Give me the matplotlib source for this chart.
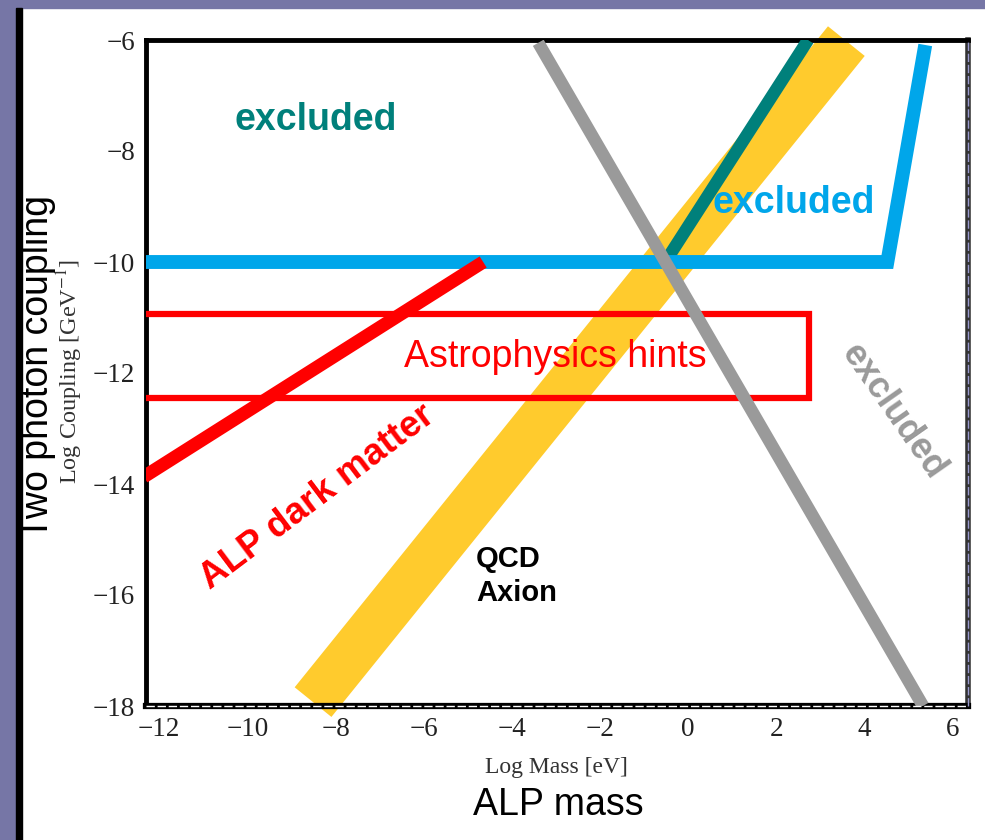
import matplotlib
matplotlib.use("Agg")
import matplotlib.pyplot as plt
from matplotlib.patches import Rectangle
from matplotlib.lines import Line2D

plt.rcParams['mathtext.fontset'] = 'stix'

# ---- data (log10 mass [eV], log10 coupling [GeV^-1]) ----
cyan_x = [-12.35, 4.52, 5.38]
cyan_y = [-10.0, -10.0, -6.09]
teal_x = [-0.52, 2.72]
teal_y = [-10.0, -6.0]
qcd_x = [-8.51, 3.59]
qcd_y = [-17.93, -6.02]
gray_x = [-3.40, 5.33]
gray_y = [-6.05, -18.0]
red_x = [-12.35, -4.65]
red_y = [-13.87, -10.0]
hint_x = [-12.35, 2.75]
hint_y = [-12.45, -10.94]

xticks = [-12, -10, -8, -6, -4, -2, 0, 2, 4, 6]
yticks = [-18, -16, -14, -12, -10, -8, -6]

W, H = 985, 840
fig = plt.figure(figsize=(W / 100, H / 100), dpi=100)
fig.patch.set_facecolor('white')

def fx(px):
    return px / W

def fy(py):
    return 1 - py / H

# slide decoration
fig.patches.append(Rectangle((0, fy(8)), 1, 8 / H, transform=fig.transFigure,
                             color='#7676A6', zorder=0))
fig.patches.append(Rectangle((0, 0), fx(15), 1, transform=fig.transFigure,
                             color='#7676A6', zorder=0))
fig.patches.append(Rectangle((fx(16), 0), fx(6), fy(8), transform=fig.transFigure,
                             color='black', zorder=0))

ax = fig.add_axes([fx(146), fy(706), fx(822), 666 / H])
ax.set_xlim(-12.3, 6.35)
ax.set_ylim(-18, -6)

sans = 'Liberation Sans'
serif = 'Liberation Serif'

# QCD axion band
ax.plot(qcd_x, qcd_y, color='#FFCB2D', lw=34, solid_capstyle='butt', zorder=2, clip_on=False)
# teal exclusion
ax.plot(teal_x, teal_y, color='#00807B', lw=9, solid_capstyle='butt', zorder=3)
# cyan exclusion
ax.plot(cyan_x, cyan_y, color='#00A6EA', lw=10, solid_capstyle='butt',
        solid_joinstyle='miter', zorder=3)
# astrophysics hints box
ax.plot([hint_x[0], hint_x[1], hint_x[1], hint_x[0]],
        [hint_y[1], hint_y[1], hint_y[0], hint_y[0]],
        color='#FF0000', lw=4.5, solid_joinstyle='miter', zorder=4)
# ALP dark matter line
ax.plot(red_x, red_y, color='#FF0000', lw=9.5, solid_capstyle='butt', zorder=5)
# gray exclusion
ax.plot(gray_x, gray_y, color='#9A9A9A', lw=9, solid_capstyle='butt', zorder=6)

# labels inside
ax.text(-8.46, -7.44, 'excluded', color='#00807B', fontsize=27, fontweight='bold',
        family=sans, ha='center', va='center', zorder=7)
ax.text(2.40, -8.94, 'excluded', color='#00A6EA', fontsize=27, fontweight='bold',
        family=sans, ha='center', va='center', zorder=7)
ax.text(4.65, -12.70, 'excluded', color='#9A9A9A', fontsize=26, fontweight='bold',
        family=sans, ha='center', va='center', rotation=-55, rotation_mode='anchor', zorder=7)
ax.text(-3.02, -11.71, 'Astrophysics hints', color='#FF0000', fontsize=27,
        family=sans, ha='center', va='center', zorder=7)
ax.text(-8.40, -14.23, 'ALP dark matter', color='#FF0000', fontsize=26.5, fontweight='bold',
        family=sans, ha='center', va='center', rotation=37, rotation_mode='anchor', zorder=7)
ax.text(-4.81, -15.66, 'QCD\nAxion', color='black', fontsize=21, fontweight='bold',
        family=sans, ha='left', va='center', linespacing=1.3, zorder=7)

# spines & ticks
for s in ['left', 'top', 'bottom']:
    ax.spines[s].set_linewidth(3.5)
    ax.spines[s].set_color('black')
ax.spines['right'].set_linewidth(4)
ax.spines['right'].set_color('#333333')
ax.spines['bottom'].set_linewidth(4.5)
# white dashes inside the double-line spines (as in the reference rendering)
ax.add_line(Line2D([0, 1], [0, 0], transform=ax.transAxes, color='white', lw=1,
                   dashes=(6, 2), clip_on=False, zorder=10))
ax.add_line(Line2D([1, 1], [0, 1], transform=ax.transAxes, color='#9A9ACF', lw=1,
                   dashes=(6, 2), clip_on=False, zorder=10))

ax.set_xticks(xticks)
ax.set_yticks(yticks)
ax.set_xticklabels(['\u2212' + str(abs(v)) if v < 0 else str(v) for v in xticks])
ax.set_yticklabels(['\u2212' + str(abs(v)) for v in yticks])
ax.tick_params(length=0, labelsize=19.5, colors='#222222', pad=8)
for lab in ax.get_xticklabels() + ax.get_yticklabels():
    lab.set_family(serif)

# axis labels
fig.text(fx(556), fy(768), 'Log Mass [eV]', family=serif, fontsize=17, color='#333333',
         ha='center', va='center')
fig.text(fx(558), fy(805), 'ALP mass', family=sans, fontsize=27, color='black',
         ha='center', va='center')
fig.text(fx(70), fy(371), r'Log Coupling [GeV$^{-1}$]', family=serif, fontsize=17.5,
         color='#333333', ha='center', va='center', rotation=90)
fig.text(fx(38), fy(367), 'Two photon coupling', family=sans, fontsize=27, color='black',
         ha='center', va='center', rotation=90)

fig.savefig('out.png', dpi=100, facecolor='white')
